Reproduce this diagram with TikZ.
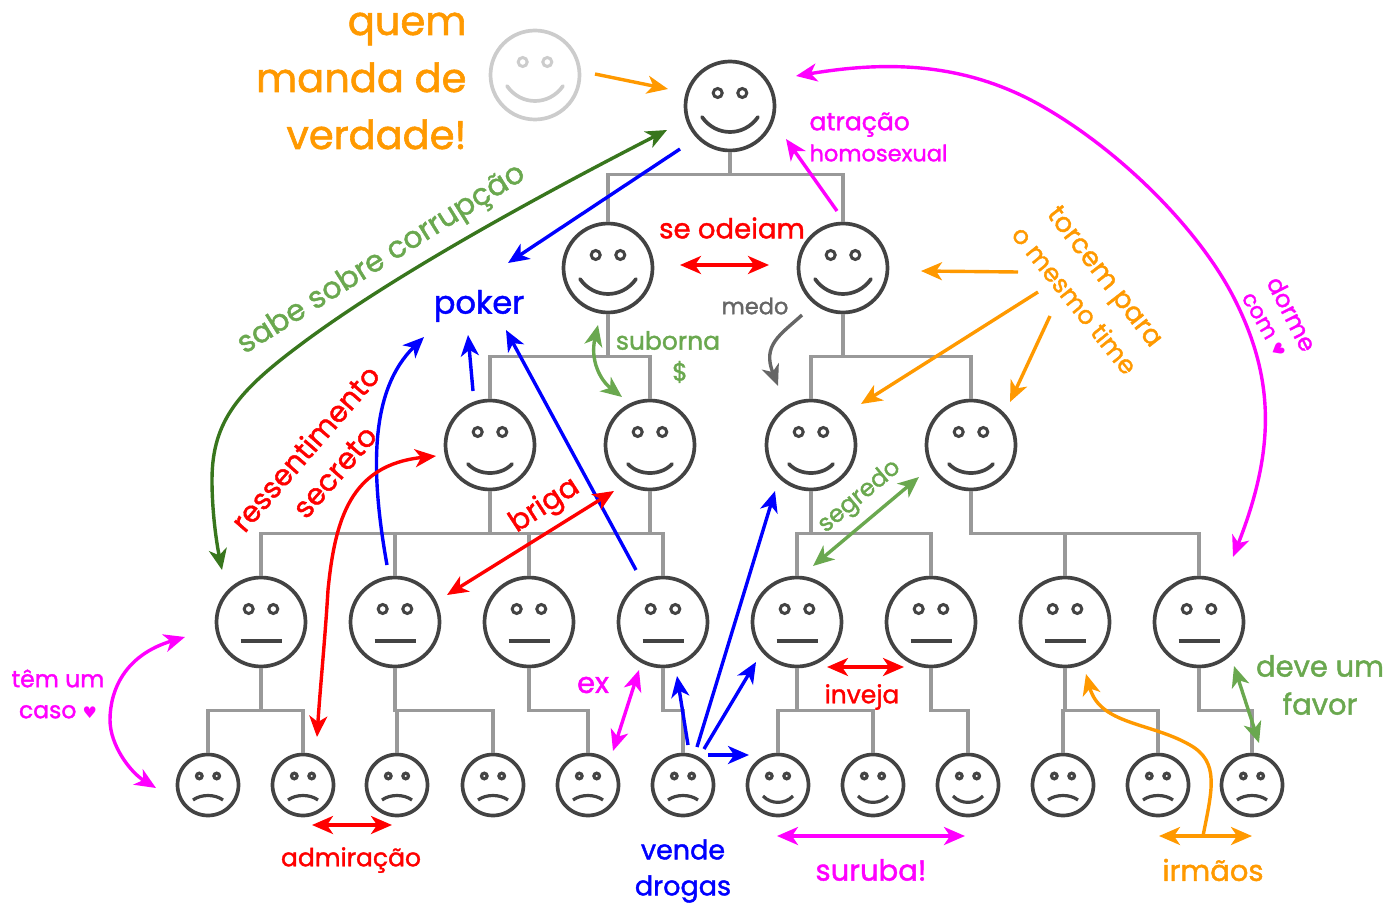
\documentclass[tikz,border=0pt]{standalone}
\usepackage{fontspec}
\setmainfont{Poppins}[FakeBold=1.5]
\newfontfamily\simbolos{DejaVu Sans}
\usetikzlibrary{arrows.meta}
\definecolor{rostocor}{HTML}{434343}
\definecolor{arvorecor}{HTML}{999999}
\definecolor{fantasma}{HTML}{CCCCCC}
\definecolor{medocor}{HTML}{666666}
\definecolor{laranja}{HTML}{FF9900}
\definecolor{rosa}{HTML}{FF00FF}
\definecolor{verdeclaro}{HTML}{6AA84F}
\definecolor{verdeescuro}{HTML}{38761D}
\newcommand{\tam}[2]{\fontsize{#1}{#2}\selectfont}
\newcommand{\coracao}{{\simbolos\tam{16}{16}♥}}
\tikzset{
	rosto/.style={draw=rostocor,circle,line width=3.7pt,inner sep=0pt,minimum size=#1},
	boca/.style={draw=rostocor,line width=3.7pt},
	arvore/.style={draw=arvorecor,line width=3.6pt},
	seta/.style={line width=3.4pt,-{Stealth[length=21pt,width=18pt,inset=6pt]}},
	dupla/.style={line width=3.4pt,{Stealth[length=21pt,width=18pt,inset=6pt]}-{Stealth[length=21pt,width=18pt,inset=6pt]}},
	texto/.style={font=\tam{25}{31}},
}
\begin{document}
\begin{tikzpicture}[x=1pt,y=-1pt]
		\useasboundingbox (0,0) rectangle (1387,909);
		% Rostos grandes
		\foreach \nome/\x/\y/\cor in {fora/535/75/fantasma,chefe/730/106/rostocor,sub1/608/268/rostocor,sub2/843/268/rostocor}{
			\node[rosto=89pt,draw=\cor] (\nome) at (\x,\y) {};
			\begin{scope}[shift={(\x,\y)},draw=\cor]
				\draw[line width=3pt] (-12.3,-13) circle (4.5pt) (12.3,-13) circle (4.5pt);
				\draw[line width=3.7pt,line cap=round] (-28,11) .. controls (-14,31) and (14,31) .. (28,11);
			\end{scope}
		}
		% Gerentes
		\foreach \nome/\x in {ger1/490,ger2/650,ger3/811,ger4/971}{
			\node[rosto=89pt] (\nome) at (\x,445) {};
			\begin{scope}[shift={(\x,445)},draw=rostocor]
				\draw[line width=3pt] (-12.3,-13) circle (4.5pt) (12.3,-13) circle (4.5pt);
				\draw[boca,line cap=round] (-22,19) .. controls (-11,31) and (11,31) .. (22,19);
			\end{scope}
		}
		% Neutros
		\foreach \nome/\x in {sup1/261,sup2/395,sup3/529,sup4/663,sup5/797,sup6/931,sup7/1065,sup8/1199}{
			\node[rosto=89pt] (\nome) at (\x,622) {};
			\begin{scope}[shift={(\x,622)},draw=rostocor]
				\draw[line width=3pt] (-12.3,-13) circle (4.5pt) (12.3,-13) circle (4.5pt);
				\draw[boca] (-20.5,19) -- (20.5,19);
			\end{scope}
		}
		% Rostos pequenos
		\foreach \nome/\x/\a/\b in {op1/208/15/9,op2/303/15/9,op3/397/15/9,op4/493/15/9,op5/588/15/9,op6/683/15/9,op7/778/11/19.5,op8/873/11/19.5,op9/968/11/19.5,op10/1063/15/9,op11/1158/15/9,op12/1252/15/9}{
			\node[rosto=61pt] (\nome) at (\x,785) {};
			\begin{scope}[shift={(\x,785)},draw=rostocor]
				\draw[line width=3.2pt] (-8.7,-9) circle (2.8pt) (8.7,-9) circle (2.8pt);
				\draw[boca,line width=3.2pt] (-15,\a) .. controls (-7,\b) and (7,\b) .. (15,\a);
			\end{scope}
		}
		% Hierarquia
		\draw[arvore] (chefe.south) -- ++(0,22) -| (sub1.north);
		\draw[arvore] (chefe.south) -- ++(0,22) -| (sub2.north);
		\foreach \pai/\filho in {sub1/ger1,sub1/ger2,sub2/ger3,sub2/ger4,
			ger1/sup1,ger1/sup2,ger1/sup3,ger1/sup4,ger2/sup4,ger3/sup5,ger3/sup6,ger4/sup7,ger4/sup8,
			sup1/op1,sup1/op2,sup2/op3,sup2/op4,sup3/op5,sup4/op6,sup5/op7,sup5/op8,sup6/op9,sup7/op10,sup7/op11,sup8/op12}
			\draw[arvore] (\pai.south) -- ++(0,42) -| (\filho.north);
		% Pontas soltas
		\foreach \nome/\x/\y in {a1/595/74,a2/668/89,b1/667/130,b2/222/570,c1/680/149,c2/508/263,d1/837/211,d2/786/139,
			e1/796/76,e2/1233/557,f1/680/265,f2/769/265,g1/1018/272,g2/921/271,h1/1038/292,h2/861/404,i1/1050/316,i2/1010/402,
			j1/802/315,j2/778/386,k1/598/325,k2/622/397,l1/473/391,l2/468/335,m1/387/565,m2/424/337,n1/636/570,n2/506/330,
			o1/436/456,o2/317/737,p1/614/491,p2/447/595,q1/688/745,q2/677/676,r1/697/747,r2/775/491,s1/704/749,s2/756/662,
			t1/708/755,t2/749/755,u1/639/670,u2/613/751,v1/185/637,v2/156/788,w1/312/825,w2/392/825,x1/827/667,x2/904/667,
			y1/777/836,y2/965/836,z1/1159/836,z2/1252/836,zz1/1203/836,zz2/1086/674,zy1/1234/666,zy2/1259/743,zx1/919/477,zx2/813/566}
			\coordinate (\nome) at (\x,\y);
		% Setas
		\draw[seta,laranja] (a1) -- (a2);
		\draw[dupla,verdeescuro] (b1) .. controls (560,185) and (400,270) .. (300,345) .. controls (240,390) and (212,420) .. (212,480) .. controls (212,510) and (216,540) .. (b2);
		\draw[seta,blue] (c1) -- (c2);
		\draw[seta,rosa] (d1) -- (d2);
		\draw[dupla,rosa] (e1) .. controls (880,62) and (960,60) .. (1040,105) .. controls (1120,150) and (1200,230) .. (1235,300) .. controls (1275,380) and (1275,450) .. (e2);
		\draw[dupla,red] (f1) -- (f2);
		\draw[seta,laranja] (g1) -- (g2);
		\draw[seta,laranja] (h1) -- (h2);
		\draw[seta,laranja] (i1) -- (i2);
		\draw[seta,medocor] (j1) .. controls (780,335) and (762,345) .. (j2);
		\draw[dupla,verdeclaro] (k1) .. controls (590,360) and (600,380) .. (k2);
		\draw[seta,blue] (l1) -- (l2);
		\draw[seta,blue] (m1) .. controls (370,470) and (370,390) .. (m2);
		\draw[seta,blue] (n1) -- (n2);
		\draw[dupla,red] (o1) .. controls (350,465) and (335,520) .. (328,590) .. controls (325,640) and (320,690) .. (o2);
		\draw[dupla,red] (p1) -- (p2);
		\draw[seta,blue] (q1) -- (q2);
		\draw[seta,blue] (r1) -- (r2);
		\draw[seta,blue] (s1) -- (s2);
		\draw[seta,blue] (t1) -- (t2);
		\draw[dupla,rosa] (u1) -- (u2);
		\draw[dupla,rosa] (v1) .. controls (125,655) and (110,690) .. (110,720) .. controls (110,745) and (130,772) .. (v2);
		\draw[dupla,red] (w1) -- (w2);
		\draw[dupla,red] (x1) -- (x2);
		\draw[dupla,rosa] (y1) -- (y2);
		\draw[dupla,laranja] (z1) -- (z2);
		\draw[seta,laranja] (zz1) .. controls (1212,790) and (1220,762) .. (1190,745) .. controls (1150,722) and (1100,725) .. (zz2);
		\draw[dupla,verdeclaro] (zy1) -- (zy2);
		\draw[dupla,verdeclaro] (zx1) -- (zx2);
		% Textos
		\node[laranja,font=\tam{40}{57},align=right,anchor=east] (ordem) at (470,81) {quem\\manda de\\verdade!};
		\node[rosa,texto,align=left,anchor=west] (atracao) at (806,137) {atração\\{\tam{22.5}{31}homosexual}};
		\node[red,font=\tam{27.5}{27.5}] (odeiam) at (732,228) {se odeiam};
		\node[blue,font=\tam{32}{32}] (poker) at (479,306) {poker};
		\node[medocor,font=\tam{22.5}{22.5}] (medo) at (755,306) {medo};
		\node[verdeclaro,texto,align=center] (suborna) at (668,357) {suborna\\\hspace*{24pt}\$};
		\node[verdeclaro,font=\tam{30}{30},rotate=32] (corrupcao) at (382,260) {sabe sobre corrupção};
		\node[red,font=\tam{29}{29},rotate=49] (ressent) at (305,448) {ressentimento};
		\node[red,font=\tam{29.5}{29.5},rotate=49] (secreto) at (335,472) {secreto};
		\node[red,font=\tam{29}{29},rotate=33] (briga) at (545,506) {briga};
		\node[verdeclaro,font=\tam{24}{24},rotate=40] (segredo) at (860,497) {segredo};
		\node[laranja,font=\tam{27}{27},rotate=-52] (torcem) at (1103,278) {torcem para};
		\node[laranja,font=\tam{25}{25},rotate=-51] (mesmo) at (1075,300) {o mesmo time};
		\node[rosa,font=\tam{24}{24},rotate=-63] (dorme) at (1292,314) {dorme};
		\node[rosa,font=\tam{22}{22},rotate=-60] (com) at (1264,325) {com \coracao};
		\node[rosa,font=\tam{23.5}{31},align=center] (caso) at (58,694) {têm um\\caso \coracao};
		\node[rosa,font=\tam{29}{29}] (ex) at (593,685) {ex};
		\node[red,texto] (inveja) at (862,697) {inveja};
		\node[red,texto] (admiracao) at (351,860) {admiração};
		\node[blue,font=\tam{27}{36},align=center] (drogas) at (683,871) {vende\\drogas};
		\node[rosa,font=\tam{29}{29}] (suruba) at (871,870) {suruba!};
		\node[laranja,font=\tam{29}{29}] (irmaos) at (1213,870) {irmãos};
		\node[verdeclaro,font=\tam{29}{38},align=center] (favor) at (1320,685) {deve um\\favor};
\end{tikzpicture}
\end{document}
